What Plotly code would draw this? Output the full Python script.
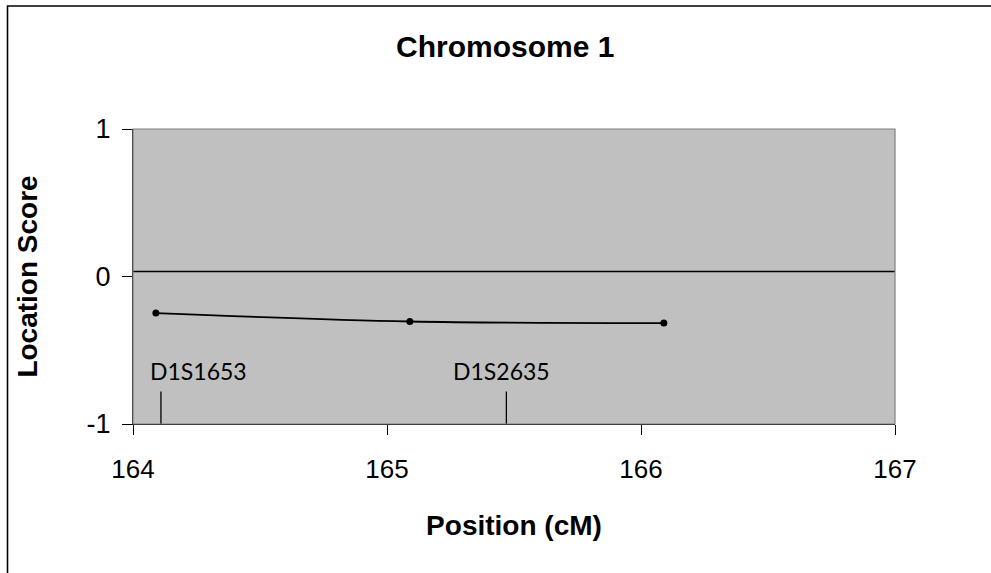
import plotly.graph_objects as go

# ---- data ----
positions = [164.09, 165.09, 166.09]
scores = [-0.248, -0.305, -0.316]
marker_names = ["D1S1653", "D1S2635"]
marker_positions = [164.11, 165.47]
threshold = 0.034
x_ticks = [164, 165, 166, 167]
y_ticks = [-1, 0, 1]

W, H = 991, 573
ML, MR, MT, MB = 133, 96, 129, 149
PW, PH = W - ML - MR, H - MT - MB

def px_to_paper_x(px):
    return (px - ML) / PW

def px_to_paper_y(py):
    return (H - MB - py) / PH

fig = go.Figure()

# threshold line across the plot
fig.add_shape(type="line", xref="paper", yref="y", x0=0, x1=1, y0=threshold, y1=threshold,
              line=dict(color="black", width=1.5))

# marker ticks
for pos in marker_positions:
    fig.add_trace(go.Scatter(x=[pos, pos], y=[-1, -0.78], mode="lines",
                             line=dict(color="black", width=1.3), hoverinfo="skip",
                             showlegend=False, cliponaxis=False))

# main series
fig.add_trace(go.Scatter(x=positions, y=scores, mode="lines+markers",
                         line=dict(color="black", width=1.8, shape="spline", smoothing=1),
                         marker=dict(color="black", size=7), showlegend=False))

# marker labels
fig.add_annotation(x=marker_positions[0] - 0.05, y=-0.64, text=marker_names[0], showarrow=False,
                   xanchor="left", yanchor="middle",
                   font=dict(family="Lato, Open Sans, sans-serif", size=23, color="black"))
fig.add_annotation(x=marker_positions[1] - 0.02, y=-0.64, text=marker_names[1], showarrow=False,
                   xanchor="center", yanchor="middle",
                   font=dict(family="Lato, Open Sans, sans-serif", size=23, color="black"))

# plot area grey border
fig.add_shape(type="rect", xref="paper", yref="paper", x0=0, x1=1, y0=0, y1=1,
              line=dict(color="#808080", width=1.2), layer="above")

# outer chart border (left and top visible)
fig.add_shape(type="rect", xref="paper", yref="paper",
              x0=px_to_paper_x(7.5), x1=px_to_paper_x(1005),
              y0=px_to_paper_y(590), y1=px_to_paper_y(6),
              line=dict(color="black", width=1.6))

# title
fig.add_annotation(xref="paper", yref="paper", x=px_to_paper_x(505), y=px_to_paper_y(47),
                   text="<b>Chromosome 1</b>", showarrow=False, xanchor="center", yanchor="middle",
                   font=dict(family="Liberation Sans, Arial, sans-serif", size=30, color="black"))

fig.update_layout(
    width=W, height=H,
    margin=dict(l=ML, r=MR, t=MT, b=MB, pad=0),
    paper_bgcolor="white",
    plot_bgcolor="#C0C0C0",
    font=dict(family="Liberation Sans, Arial, sans-serif", color="black"),
    xaxis=dict(range=[164, 167], tickvals=x_ticks, ticktext=[str(t) for t in x_ticks],
               showgrid=False, zeroline=False, showline=True, linecolor="black", linewidth=1.3,
               ticks="outside", ticklen=10, tickcolor="black", tickwidth=1,
               ticklabelstandoff=12, tickfont=dict(size=26),
               title=dict(text="<b>Position (cM)</b>", font=dict(size=28), standoff=32)),
    yaxis=dict(range=[-1, 1], tickvals=y_ticks, ticktext=[str(t) for t in y_ticks],
               showgrid=False, zeroline=False, showline=True, linecolor="black", linewidth=1.3,
               ticks="outside", ticklen=10, tickcolor="black", tickwidth=1,
               ticklabelstandoff=6, tickfont=dict(size=27),
               title=dict(text="<b>Location Score</b>", font=dict(size=28), standoff=40)),
)

fig.write_html("out.html",
               config={"displayModeBar": False},
               post_script="document.body.style.margin='0px';document.body.style.overflow='hidden';")
